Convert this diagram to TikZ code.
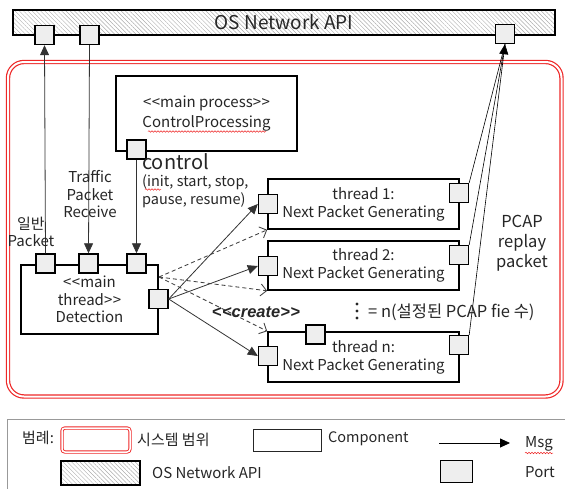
\documentclass[tikz,border=0pt]{standalone}
\usepackage{fontspec}
\setmainfont{Noto Sans CJK KR}
\newfontfamily\stereofont{Liberation Sans}
\usetikzlibrary{arrows.meta,patterns.meta,decorations.pathmorphing}
\definecolor{sysred}{RGB}{238,40,40}
\definecolor{portgray}{RGB}{238,238,238}
\newcommand\dlt{<\kern0.5pt<}
\newcommand\dgt{>\kern0.5pt>}
\newcommand\fs[2]{\fontsize{#1}{#2}\selectfont}

\begin{document}
\begin{tikzpicture}[x=1pt,y=-1pt,
  comp/.style={draw=black, line width=1.6pt, fill=white, inner sep=0pt,
    align=center, text=black!85, font=\fs{15}{18}},
  port/.style={draw=black, line width=1.4pt, fill=portgray, minimum size=19pt, inner sep=0pt},
  api/.style={draw=black, line width=1.8pt, inner sep=0pt,
    pattern={Lines[angle=-45,distance=3pt,line width=0.45pt]}, pattern color=gray!65},
  sysbound/.style={draw=sysred, double=white, double distance=2pt, line width=1.2pt,
    rounded corners=16pt},
  msg/.style={draw=black!80, line width=0.8pt, -{Triangle[length=10pt,width=9pt]}},
  create/.style={draw=black!75, line width=0.85pt, dash pattern=on 4pt off 3pt,
    -{Straight Barb[length=6pt,width=12pt]}},
  replay/.style={draw=black, line width=0.6pt},
  lbl/.style={inner sep=0pt, text=black!85, align=center, font=\fs{15}{17.5}},
  spell/.style={draw=sysred, line width=0.5pt, decorate,
    decoration={snake, amplitude=0.8pt, segment length=3pt}}
]
\useasboundingbox (0,0) rectangle (565,488);

% system boundary
\node[sysbound, minimum width=553.5pt, minimum height=334.5pt] (sys) at (284.75,229.25) {};

% OS network API bar
\node[api, minimum width=542pt, minimum height=25pt, text=black!85, font=\fs{19}{22}]
  (api) at (284,22.5) {OS Network API};

% components
\node[comp, minimum width=181pt, minimum height=75pt, font=\fs{15}{20}] (cp) at (206.5,113.5)
  {\dlt main process\dgt\\ControlProcessing};
\node[comp, minimum width=137pt, minimum height=69pt, font=\fs{15}{17.5}] (det) at (89.5,299.5)
  {\dlt main\\thread\dgt\\Detection};
\node[comp, minimum width=191pt, minimum height=50pt] (t1) at (363.5,204)
  {thread 1:\\Next Packet Generating};
\node[comp, minimum width=191pt, minimum height=49pt] (t2) at (363.5,265.5)
  {thread 2:\\Next Packet Generating};
\node[comp, minimum width=191pt, minimum height=50pt] (tn) at (363.5,357)
  {thread n:\\Next Packet Generating};

% ports
\node[port] (apiA) at (44.5,35) {};
\node[port] (apiB) at (89.5,35) {};
\node[port] (apiC) at (505,34) {};
\node[port] (cpP) at (136.5,149.5) {};
\node[port] (detA) at (45.5,263.5) {};
\node[port] (detB) at (88.5,263.5) {};
\node[port] (detC) at (136.5,263.5) {};
\node[port] (detR) at (158.5,299) {};
\node[port] (t1L) at (268,204) {};
\node[port] (t1R) at (459,193) {};
\node[port] (t2L) at (268,266) {};
\node[port] (t2R) at (459,255) {};
\node[port] (tnL) at (268,356) {};
\node[port] (tnR) at (459,345) {};
\node[port] (tnT) at (315.5,334.5) {};

% messages
\draw[msg] (detA.north) -- (apiA.south);
\draw[msg] (apiB.south) -- (detB.north);
\draw[msg] (cpP.south) -- (detC.north);
\draw[msg] (detR.east) -- (t1L.west);
\draw[msg] (detR.east) -- (t2L.west);
\draw[msg] (detR.east) -- (tnL.west);

% thread creation
\coordinate (cr) at (159,277);
\draw[create] (cr) -- (t1.south west);
\draw[create] (cr) -- (t2.south west);
\draw[create] (cr) -- (tn.north west);

% replayed packets to the network API
\draw[replay] (t1R.north east) -- (apiC.south);
\draw[replay] (t2R.north east) -- (apiC.south);
\draw[replay, -{Triangle[length=10pt,width=9pt]}] (tnR.north east) -- (apiC.south);

% labels
\node[lbl] (lgen) at (31,232) {일반\\Packet};
\node[lbl] (ltraffic) at (90,194.5) {Traffic\\Packet\\Receive};
\node[lbl, anchor=west, font=\fs{20}{24}] (lctl) at (142,162) {control};
\node[lbl, anchor=west, align=left, font=\fs{14.5}{18}] (lctlops) at (142,191)
  {(init, start, stop,\\pause, resume)};
\node[lbl, font=\stereofont\bfseries\itshape\fs{16.5}{20}] (lcreate) at (256,312) {\dlt create\dgt};
\foreach \yy in {304,311,318} \fill[black!85] (357,\yy) circle (1.7pt);
\node[lbl, anchor=west, font=\fs{16.5}{19}] (lcount) at (368,312) {= n(설정된 PCAP fie 수)};
\node[lbl, font=\fs{16.5}{20}] (lpcap) at (522,243) {PCAP\\replay\\packet};

% spelling marks
\draw[spell] (148,131.5) -- (266,131.5);
\draw[spell] (145,189.5) -- (161,189.5);

% legend
\draw[gray!80, line width=0.8pt] (570,419) -- (7,419) -- (7,495);
\node[lbl, anchor=west] (lg) at (22,438) {범례:};
\node[sysbound, rounded corners=3pt, line width=0.9pt, double distance=1.5pt,
  minimum width=68pt, minimum height=24pt] (lgsys) at (96,440) {};
\node[lbl, anchor=west] (lgsyst) at (137,440) {시스템 범위};
\node[draw=black!85, line width=1pt, minimum width=68pt, minimum height=22pt, inner sep=0pt]
  (lgcomp) at (287,440) {};
\node[lbl, anchor=west, font=\fs{14.5}{17}] (lgcompt) at (328,439) {Component};
\coordinate (lgmsgA) at (439,443);
\coordinate (lgmsgB) at (510,443);
\draw[msg, draw=black] (lgmsgA) -- (lgmsgB);
\node[lbl, anchor=west] (lgmsgt) at (525,444) {Msg};
\draw[spell] (525,453) -- (553,453);
\node[api, minimum width=79pt, minimum height=24pt] (lgapi) at (100.5,473) {};
\node[lbl, anchor=west] (lgapit) at (152,473) {OS Network API};
\node[port, line width=1pt, minimum width=32pt, minimum height=22pt] (lgport) at (456,471) {};
\node[lbl, anchor=west] (lgportt) at (525,472) {Port};
\end{tikzpicture}
\end{document}
